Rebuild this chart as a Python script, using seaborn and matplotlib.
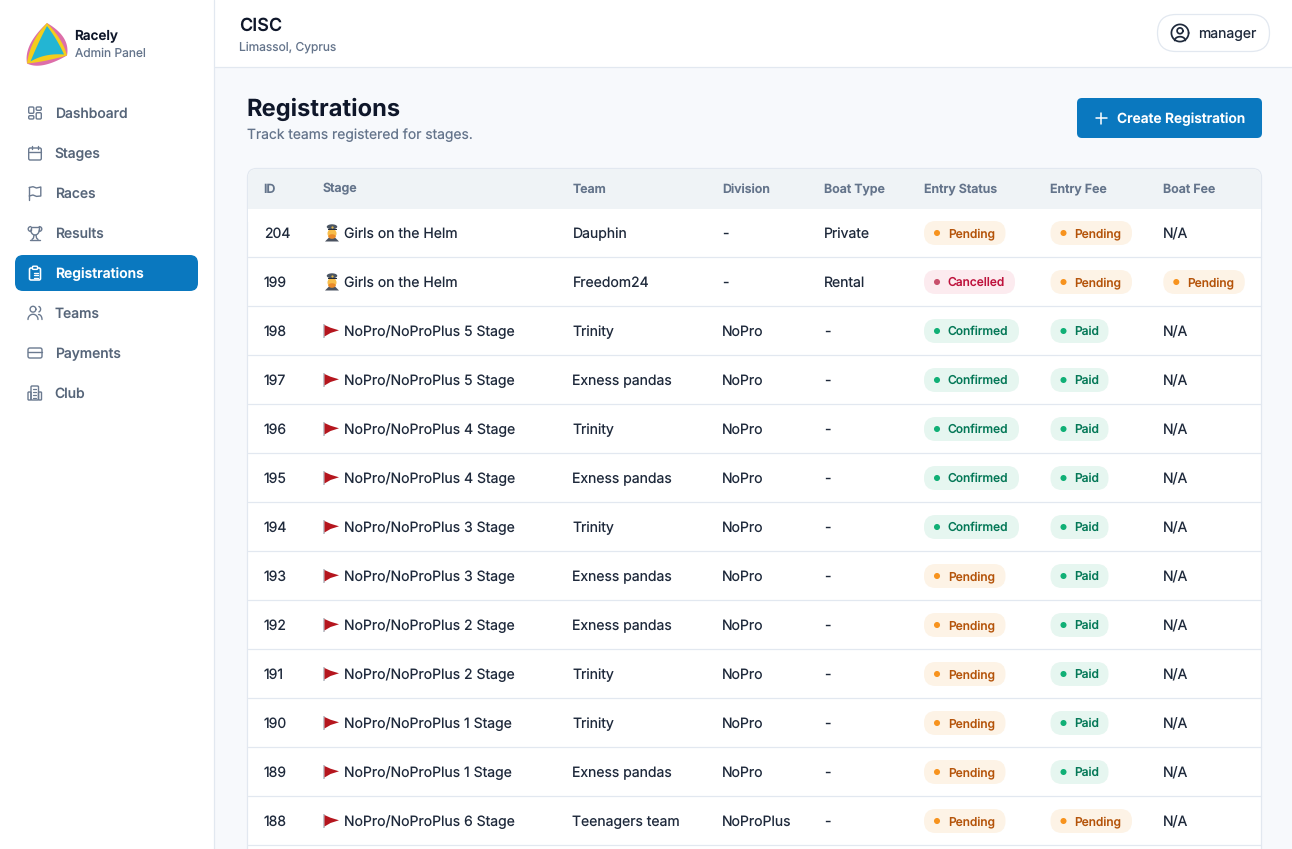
import matplotlib
matplotlib.use("Agg")
import matplotlib.pyplot as plt
import matplotlib.patches as mp
import numpy as np
import pandas as pd
import seaborn as sns

# Table content
ids = [204, 199, 198, 197, 196, 195, 194, 193, 192, 191, 190, 189, 188]
stages = ["Girls on the Helm", "Girls on the Helm",
          "NoPro/NoProPlus 5 Stage", "NoPro/NoProPlus 5 Stage",
          "NoPro/NoProPlus 4 Stage", "NoPro/NoProPlus 4 Stage",
          "NoPro/NoProPlus 3 Stage", "NoPro/NoProPlus 3 Stage",
          "NoPro/NoProPlus 2 Stage", "NoPro/NoProPlus 2 Stage",
          "NoPro/NoProPlus 1 Stage", "NoPro/NoProPlus 1 Stage",
          "NoPro/NoProPlus 6 Stage"]
teams = ["Dauphin", "Freedom24", "Trinity", "Exness pandas", "Trinity", "Exness pandas",
         "Trinity", "Exness pandas", "Exness pandas", "Trinity", "Trinity", "Exness pandas",
         "Teenagers team"]
divisions = ["-", "-"] + ["NoPro"] * 10 + ["NoProPlus"]
boat_types = ["Private", "Rental"] + ["-"] * 11
entry_status = ["Pending", "Cancelled", "Confirmed", "Confirmed", "Confirmed", "Confirmed", "Confirmed",
                "Pending", "Pending", "Pending", "Pending", "Pending", "Pending"]
entry_fee = ["Pending", "Pending"] + ["Paid"] * 10 + ["Pending"]
boat_fee = ["N/A", "Pending"] + ["N/A"] * 11

columns = ["ID", "Stage", "Team", "Division", "Boat Type", "Entry Status", "Entry Fee", "Boat Fee"]
nav_items = ["Dashboard", "Stages", "Races", "Results", "Registrations", "Teams", "Payments", "Club"]
active_item = "Registrations"

# Layout, in screenshot pixels
COL_X = [263.6, 322.5, 572.5, 722.3, 823.8, 924, 1050.5, 1163.3]
ROW_TOP = 209
ROW_H = 49
BADGE_W = {"Pending": 81.5, "Cancelled": 91, "Confirmed": 95, "Paid": 58}
BADGE_BG = {"Pending": "#fdf3e6", "Cancelled": "#fcebef", "Confirmed": "#e6f6f0", "Paid": "#e6f6f0"}
BADGE_FG = {"Pending": "#b45309", "Cancelled": "#be123c", "Confirmed": "#047857", "Paid": "#047857"}
BADGE_DOT = {"Pending": "#f7931e", "Cancelled": "#c8506c", "Confirmed": "#10b076", "Paid": "#10b076"}

BLUE = "#0a78bf"
BORDER = "#e2e8f0"
INK = "#1e293b"
MUTED = "#64748b"
ICON = "#6b7a90"

sns.set_theme(style="white")
plt.rcParams["font.family"] = ["Inter", "DejaVu Sans"]
plt.rcParams["text.hinting"] = "none"
plt.rcParams["text.hinting_factor"] = 1

fig = plt.figure(figsize=(12.92, 8.49), dpi=100, facecolor="#f7f9fc")
ax = fig.add_axes([0, 0, 1, 1])
ax.set_axis_off()


def label(x, y, s, px=14, color=INK, weight="normal", ha="left"):
    ax.text(x, y, s, fontsize=px * 0.72, color=color, fontweight=weight, ha=ha, va="baseline", zorder=6)


def box(x0, y0, x1, y1, r=0, fc="white", ec="none", lw=0.0, z=1):
    if r:
        style = f"round,pad=0,rounding_size={r}"
    else:
        style = "square,pad=0"
    p = mp.FancyBboxPatch((x0, y0), x1 - x0, y1 - y0, boxstyle=style, fc=fc, ec=ec, lw=lw, zorder=z)
    ax.add_patch(p)
    return p


def stroke(xs, ys, color=ICON, lw=1.0, z=6):
    ax.plot(xs, ys, color=color, lw=lw, zorder=z, solid_capstyle="round", solid_joinstyle="round")


def outline(x0, y0, x1, y1, r=1.2, color=ICON, lw=1.0, z=6):
    box(x0, y0, x1, y1, r=r, fc="none", ec=color, lw=lw, z=z)


def arc(cx, cy, rx, ry, a0, a1, color=ICON, lw=1.0, z=6):
    t = np.radians(np.linspace(a0, a1, 40))
    stroke(cx + rx * np.cos(t), cy + ry * np.sin(t), color=color, lw=lw, z=z)


def draw_nav_icon(name, cy):
    c = "white" if name == active_item else ICON
    cx = 35
    if name == "Dashboard":
        outline(cx - 6.3, cy - 6, cx - 1.2, cy + 0.3, color=c)
        outline(cx + 1.2, cy - 6, cx + 6.3, cy - 2.7, color=c)
        outline(cx - 6.3, cy + 2.7, cx - 1.2, cy + 6, color=c)
        outline(cx + 1.2, cy - 0.3, cx + 6.3, cy + 6, color=c)
    elif name == "Stages":
        outline(cx - 6.3, cy - 5, cx + 6.3, cy + 7, r=1.5, color=c)
        stroke([cx - 6.3, cx + 6.3], [cy - 1.5, cy - 1.5], color=c)
        stroke([cx - 3, cx - 3], [cy - 7, cy - 3.8], color=c)
        stroke([cx + 3, cx + 3], [cy - 7, cy - 3.8], color=c)
    elif name == "Races":
        stroke([cx - 5.8, cx - 5.8], [cy - 6, cy + 7], color=c)
        stroke([cx - 5.8, cx - 2, cx + 1.5, cx + 5.8, cx + 5.8, cx + 1.5, cx - 2, cx - 5.8],
               [cy - 5.5, cy - 6.3, cy - 5, cy - 6, cy + 3, cy + 3.4, cy + 2, cy + 3], color=c)
    elif name == "Results":
        arc(cx, cy - 3, 4.2, 5, 0, 180, color=c)
        stroke([cx - 4.2, cx + 4.2], [cy - 6.5, cy - 6.5], color=c)
        stroke([cx - 4.2, cx - 4.2], [cy - 6.5, cy - 3], color=c)
        stroke([cx + 4.2, cx + 4.2], [cy - 6.5, cy - 3], color=c)
        arc(cx - 4.2, cy - 4, 2.6, 2.4, 90, 270, color=c)
        arc(cx + 4.2, cy - 4, 2.6, 2.4, -90, 90, color=c)
        stroke([cx - 1, cx - 1.5, cx - 3], [cy + 2, cy + 5, cy + 6.5], color=c)
        stroke([cx + 1, cx + 1.5, cx + 3], [cy + 2, cy + 5, cy + 6.5], color=c)
        stroke([cx - 5, cx + 5], [cy + 6.5, cy + 6.5], color=c)
    elif name == "Registrations":
        outline(cx - 5.5, cy - 5, cx + 5.5, cy + 7, r=1.5, color=c, lw=1.15)
        box(cx - 2.5, cy - 6.8, cx + 2.5, cy - 3.6, r=0.8, fc=BLUE, ec=c, lw=1.0, z=7)
        for dy in (-0.5, 2, 4.5):
            stroke([cx - 3, cx - 2.6], [cy + dy, cy + dy], color=c)
            stroke([cx - 0.8, cx + 3], [cy + dy, cy + dy], color=c)
    elif name == "Teams":
        arc(cx - 2, cy - 3.8, 2.9, 2.9, 0, 360, color=c)
        arc(cx - 2, cy + 6.5, 5, 5.2, 180, 360, color=c)
        arc(cx + 3, cy - 3.8, 2.6, 2.9, -70, 70, color=c)
        arc(cx + 3.5, cy + 6.5, 3.5, 5, 270, 360, color=c)
    elif name == "Payments":
        outline(cx - 7, cy - 5, cx + 7, cy + 5, r=1.8, color=c)
        stroke([cx - 7, cx + 7], [cy - 1.5, cy - 1.5], color=c)
    elif name == "Club":
        outline(cx - 4, cy - 7, cx + 3.5, cy + 7, r=1, color=c)
        outline(cx - 7, cy - 1, cx - 4, cy + 7, r=0.8, color=c)
        outline(cx + 3.5, cy - 1, cx + 6.5, cy + 7, r=0.8, color=c)
        for dy in (-4, -1, 2, 5):
            stroke([cx - 1.8, cx + 1.3], [cy + dy, cy + dy], color=c, lw=0.9)


def lobed(corners, mids):
    # closed outline of three curves, each running through its given midpoint
    pts = []
    for i in range(3):
        p, q, m = np.array(corners[i]), np.array(corners[(i + 1) % 3]), np.array(mids[i])
        ctrl = 2 * m - (p + q) / 2
        for t in np.linspace(0, 1, 24):
            pts.append((1 - t) ** 2 * p + 2 * t * (1 - t) * ctrl + t ** 2 * q)
    return np.array(pts)


def draw_logo():
    corners = [(47, 23), (27, 63.5), (67, 55.5)]
    ax.fill(*lobed(corners, [(30.3, 44), (44, 65), (63.8, 38)]).T, color="#dd6ea9", lw=0, zorder=3)
    ax.fill(*lobed(corners, [(33.5, 42), (45, 60.8), (60, 39.5)]).T, color="#f4cd1c", lw=0, zorder=4)
    ax.fill(*lobed([(47, 26), (30.5, 61.5), (64, 54.5)],
                   [(38.5, 43), (46, 55.5), (56.5, 40)]).T, color="#23b5d3", lw=0, zorder=5)


def draw_pilot(cx, cy):
    # small stand-in for the pilot emoji
    ax.fill([cx - 7, cx - 3, cx + 3, cx + 7, cx + 7, cx - 7],
            [cy + 8.5, cy + 4.5, cy + 4.5, cy + 8.5, cy + 8.5, cy + 8.5], color="#4a5260", lw=0, zorder=5)
    ax.add_patch(mp.Ellipse((cx, cy + 0.5), 9, 9.5, fc="#f7bd4a", lw=0, zorder=6))
    ax.add_patch(mp.Ellipse((cx, cy + 3.5), 7.5, 4.5, fc="#ea8a2a", lw=0, zorder=6))
    ax.add_patch(mp.Ellipse((cx, cy - 6.2), 10.5, 5, fc="#4a5563", lw=0, zorder=7))
    ax.fill([cx - 4.5, cx + 4.5, cx + 4.5, cx - 4.5], [cy - 4.5, cy - 4.5, cy - 3, cy - 3], color="#252c38", lw=0, zorder=7)
    ax.plot([cx], [cy - 6], marker="o", ms=1.6, color="#e9b949", mew=0, zorder=8)


def draw_flag(cx, cy):
    ax.fill([cx - 8.5, cx - 7, cx - 7, cx - 8.5], [cy - 7, cy - 7, cy + 7, cy + 7], color="#c4c8ce", lw=0, zorder=5)
    ax.fill([cx - 7, cx - 1, cx + 7.5, cx - 1, cx - 7],
            [cy - 6, cy - 3.3, cy - 0.7, cy + 2, cy + 5.5], color="#b5161e", lw=0, zorder=6)


def draw_badge(x, cy, status):
    box(x, cy - 12, x + BADGE_W[status], cy + 12, r=11.5, fc=BADGE_BG[status], z=3)
    label(x + 23.7, cy + 4, status, px=12, color=BADGE_FG[status], weight="medium")


# Frames
box(0, 0, 214, 849, fc="white", z=1)
ax.plot([214, 214], [0, 849], color=BORDER, lw=0.9, zorder=2)
box(215, 0, 1292, 67, fc="white", z=1)
ax.plot([215, 1292], [67, 67], color=BORDER, lw=0.9, zorder=2)

# Sidebar
draw_logo()
label(74.6, 39.4, "Racely", px=13.5, color="#0f172a", weight="semibold")
label(75, 57, "Admin Panel", px=12, color=MUTED)
box(15, 255, 198, 291, r=8, fc=BLUE, z=2)
for i, name in enumerate(nav_items):
    cy = 113 + i * 40
    draw_nav_icon(name, cy)
    on = name == active_item
    label(54.6, cy + 5, name, px=13.9, color="white" if on else "#566579", weight="semibold" if on else "medium")

# Top bar
label(239, 31, "CISC", px=18, color="#0f172a", weight="semibold")
label(239, 50.6, "Limassol, Cyprus", px=12, color=MUTED)
box(1157.5, 14.5, 1269.5, 51.5, r=18.5, fc="white", ec=BORDER, lw=0.9, z=2)
arc(1180, 33, 8.6, 8.6, 0, 360, color=INK, lw=1.25)
arc(1180, 30.8, 2.9, 2.9, 0, 360, color=INK, lw=1.25)
arc(1180, 40.5, 5.3, 3.8, 180, 360, color=INK, lw=1.25)
label(1197.6, 38, "manager", color=INK)

# Page heading
label(246.6, 116, "Registrations", px=23.7, color="#0f172a", weight="bold")
label(247, 139, "Track teams registered for stages.", px=13.85, color=MUTED)
box(1077, 98, 1262, 138, r=5, fc=BLUE, z=2)
stroke([1095.5, 1106.5], [118, 118], color="white", lw=1.1)
stroke([1101, 1101], [112.5, 123.5], color="white", lw=1.1)
label(1117, 123, "Create Registration", px=13.75, color="white", weight="semibold")

# Table frame and header
box(247.5, 168.5, 1261.5, 880, r=9, fc="white", ec=BORDER, lw=0.9, z=1)
head = box(248, 169, 1261, 220, r=8.5, fc="#eff3f6", z=1.5)
box(248, 200, 1261, 209, fc="#eff3f6", z=1.5)
box(248, 209, 1261, 222, fc="white", z=1.6)
for x, col in zip(COL_X, columns):
    label(x, 192.8, col, px=12.4, color=MUTED, weight="semibold")

# Rows
rows = pd.DataFrame({
    "id": ids, "stage": stages, "team": teams, "division": divisions, "boat": boat_types,
    "entry_status": entry_status, "entry_fee": entry_fee, "boat_fee": boat_fee,
})
rows["cy"] = ROW_TOP + ROW_H / 2 - 0.5 + rows.index * ROW_H

dots = []
for r in rows.itertuples():
    cy = r.cy
    ax.plot([248, 1261], [cy + 24, cy + 24], color=BORDER, lw=0.9, zorder=2)
    label(COL_X[0], cy + 5, str(r.id))
    if r.stage.startswith("NoPro"):
        draw_flag(COL_X[1] + 9, cy)
    else:
        draw_pilot(COL_X[1] + 9.5, cy)
    label(344.5, cy + 5, r.stage)
    label(COL_X[2], cy + 5, r.team)
    label(COL_X[3], cy + 5, r.division)
    label(COL_X[4], cy + 5, r.boat)
    for x, value in ((COL_X[5], r.entry_status), (COL_X[6], r.entry_fee), (COL_X[7], r.boat_fee)):
        if value == "N/A":
            label(x, cy + 5, value)
        else:
            draw_badge(x, cy, value)
            dots.append({"x": x + 13, "y": cy, "status": value})

sns.scatterplot(data=pd.DataFrame(dots), x="x", y="y", hue="status", palette=BADGE_DOT,
                s=19, linewidth=0, legend=False, zorder=5, ax=ax)

ax.set_xlim(0, 1292)
ax.set_ylim(849, 0)
ax.set_axis_off()
fig.savefig("out.png", dpi=100, facecolor=fig.get_facecolor())
